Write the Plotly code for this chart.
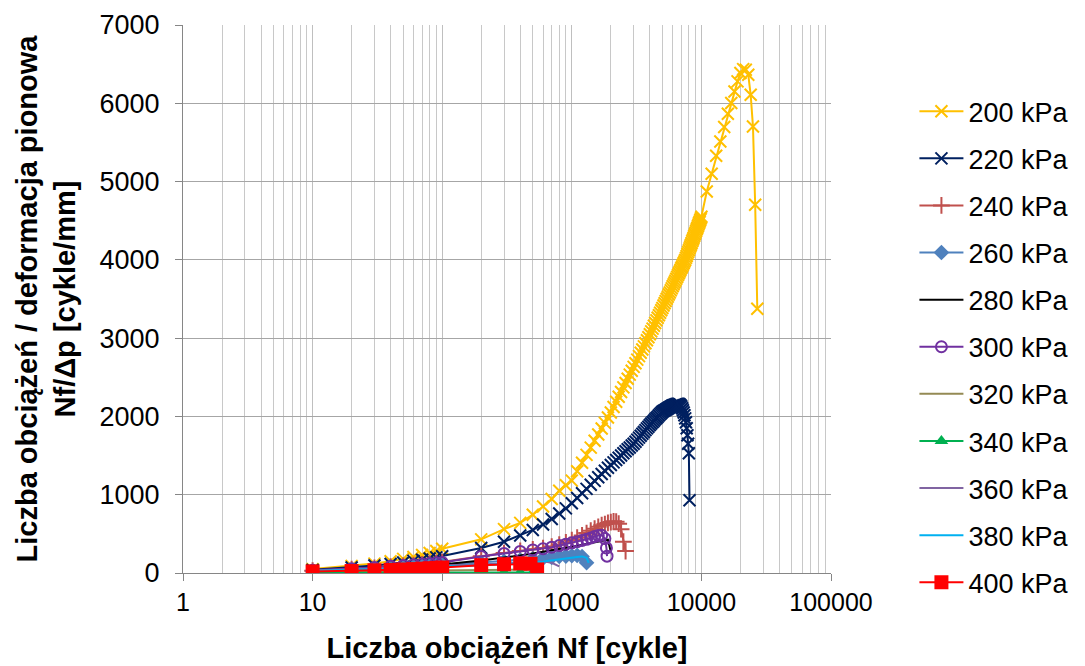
import plotly.graph_objects as go

# ---- data ----
N_LOW = [10, 20, 30, 40, 50, 60, 70, 80, 90, 100]
N_MID = [200, 300, 400, 500, 600, 700, 800, 900, 1000]
N_DENSE = [1100, 1200, 1300, 1400, 1500, 1600, 1700, 1800, 1900, 2000,
           2100, 2200, 2300, 2400, 2500, 2600, 2700, 2800, 2900, 3000,
           3100, 3200, 3300, 3400, 3500, 3600, 3700, 3800, 3900, 4000,
           4100, 4200, 4300, 4400, 4500, 4600, 4700, 4800, 4900, 5000,
           5100, 5200, 5300, 5400, 5500, 5600, 5700, 5800, 5900, 6000,
           6100, 6200, 6300, 6400, 6500, 6600, 6700, 6800, 6900, 7000,
           7100, 7200, 7300, 7400, 7500, 7600, 7700, 7800, 7900, 8000,
           8100, 8200, 8300, 8400, 8500, 8600, 8700, 8800, 8900, 9000,
           9100, 9200, 9300, 9400, 9500, 9600, 9700, 9800, 9900, 10000]
N_HIGH = [11000, 12000, 13000, 14000, 15000, 16000, 17000, 18000, 19000,
          20000, 21000, 22000, 23000, 24000, 25000, 26000, 27000]
CYCLES = N_LOW + N_MID + N_DENSE + N_HIGH

y200 = [50, 90, 120, 150, 180, 205, 230, 255, 280, 310,
        430, 560, 640, 745, 850, 945, 1050, 1120, 1180,
        1300, 1409, 1509, 1602, 1689, 1770, 1846, 1918, 1986, 2050,
        2120, 2187, 2251, 2312, 2371, 2427, 2482, 2534, 2584, 2633,
        2680, 2726, 2770, 2813, 2855, 2895, 2934, 2973, 3011, 3049,
        3086, 3122, 3158, 3193, 3227, 3260, 3293, 3324, 3356, 3386,
        3416, 3445, 3474, 3503, 3530, 3557, 3584, 3610, 3636, 3662,
        3687, 3711, 3735, 3759, 3783, 3806, 3829, 3851, 3873, 3895,
        3916, 3937, 3958, 3979, 4000, 4025, 4050, 4075, 4099, 4123,
        4147, 4170, 4194, 4216, 4239, 4261, 4283, 4305, 4327, 4348,
        4369, 4390, 4411, 4431, 4451, 4472, 4491, 4511, 4530, 4550,
        4874, 5100, 5330, 5512, 5696, 5866, 6003, 6150, 6280, 6386,
        6436, 6428, 6364, 6108, 5704, 4703, 3375]

y220 = [40, 70, 95, 115, 135, 155, 170, 185, 200, 215,
        320, 400, 480, 550, 620, 690, 760, 825, 890,
        957, 1019, 1075, 1128, 1177, 1222, 1265, 1306, 1344, 1380,
        1413, 1444, 1473, 1501, 1529, 1555, 1580, 1604, 1628, 1650,
        1677, 1704, 1729, 1754, 1779, 1802, 1825, 1847, 1869, 1890,
        1909, 1927, 1945, 1963, 1980, 1996, 2013, 2029, 2044, 2060,
        2069, 2077, 2086, 2094, 2102, 2110, 2118, 2125, 2133, 2140,
        2144, 2148, 2152, 2155, 2158, 2160, 2158, 2152, 2142, 2128,
        2105, 2080, 2050, 2015, 1975, 1925, 1850, 1760, 1650, 1530, 930]

y240 = [30, 50, 65, 80, 90, 100, 110, 120, 130, 140,
        215, 255, 282, 302, 318, 338, 362, 390, 420,
        450, 480, 510, 540, 565, 590, 610, 625, 640, 650,
        660, 655, 630, 560, 400, 280]

y260 = [25, 40, 50, 60, 70, 78, 85, 92, 100, 105,
        130, 150, 165, 180, 190, 200, 210, 215, 220,
        225, 210, 130]

y280 = [30, 45, 55, 65, 75, 82, 90, 97, 105, 110,
        160, 195, 225, 250, 270, 290, 305, 320, 335,
        348, 360, 372, 384, 395, 405, 413, 420, 425, 270]

x300 = N_LOW + N_MID + [1100, 1200, 1300, 1400, 1500, 1600, 1700, 1800, 1850, 1870]
y300 = [35, 55, 70, 85, 95, 105, 115, 122, 130, 135,
        212, 250, 275, 295, 310, 330, 350, 368, 385,
        400, 415, 430, 448, 465, 478, 482, 440, 320, 215]

x320 = N_LOW + [200, 300, 400, 500]
y320 = [15, 20, 25, 28, 30, 32, 34, 36, 38, 40, 45, 48, 50, 45]

x340 = N_LOW + [200, 300, 400, 500]
y340 = [3, 4, 4, 5, 5, 5, 6, 6, 6, 7, 8, 9, 8, 6]

x360 = N_LOW + [200, 300, 400, 500, 600, 700, 800]
y360 = [30, 45, 55, 62, 70, 76, 82, 87, 92, 97, 110, 125, 138, 148, 150, 130, 85]

x380 = N_LOW + N_MID + [1100, 1200, 1300, 1350]
y380 = [25, 38, 48, 55, 62, 68, 73, 78, 83, 87,
        95, 110, 122, 135, 148, 160, 172, 183, 193,
        203, 212, 195, 128]

x400 = N_LOW + [200, 300, 400, 480, 540]
y400 = [20, 25, 35, 40, 45, 50, 55, 60, 65, 70, 100, 112, 122, 118, 45]

X_TICKS = [1, 10, 100, 1000, 10000, 100000]
X_TICK_TEXT = ["1", "10", "100", "1000", "10000", "100000"]
Y_TICKS = [0, 1000, 2000, 3000, 4000, 5000, 6000, 7000]

# ---- figure ----
FONT = "Liberation Sans, Arial, sans-serif"
fig = go.Figure()

series = [
    ("200 kPa", CYCLES, y200, "#FFC000", "x-thin", 12),
    ("220 kPa", CYCLES[:len(y220)], y220, "#002060", "x-thin", 12),
    ("240 kPa", CYCLES[:len(y240)], y240, "#C0504D", "cross-thin", 12),
    ("260 kPa", CYCLES[:len(y260)], y260, "#4F81BD", "diamond", 12),
    ("280 kPa", CYCLES[:len(y280)], y280, "#000000", None, 0),
    ("300 kPa", x300, y300, "#7030A0", "circle-open", 11),
    ("320 kPa", x320, y320, "#948A54", None, 0),
    ("340 kPa", x340, y340, "#00B050", "triangle-up", 12),
    ("360 kPa", x360, y360, "#8064A2", None, 0),
    ("380 kPa", x380, y380, "#00B0F0", None, 0),
    ("400 kPa", x400, y400, "#FF0000", "square", 14),
]

for i, (name, xs, ys, col, sym, size) in enumerate(series):
    if sym is None:
        mode = "lines"
        marker = None
    else:
        mode = "lines+markers"
        if sym.endswith("-thin") or sym.endswith("-open"):
            marker = dict(symbol=sym, size=size, color=col,
                          line=dict(color=col, width=2))
        else:
            marker = dict(symbol=sym, size=size, color=col,
                          line=dict(width=0))
    fig.add_trace(go.Scatter(
        x=xs, y=ys, name=name, mode=mode,
        line=dict(color=col, width=2),
        marker=marker, legendgroup=f"g{i}",
    ))

fig.update_layout(
    width=1077, height=658,
    paper_bgcolor="white", plot_bgcolor="white",
    margin=dict(l=175, r=253, t=17, b=93),
    font=dict(family=FONT, size=26, color="#000000"),
    legend=dict(
        x=1.127, xanchor="left", y=0.412, yanchor="middle",
        font=dict(family=FONT, size=27, color="#000000"),
        traceorder="grouped", tracegroupgap=9, itemwidth=44,
        bgcolor="rgba(0,0,0,0)",
    ),
    showlegend=True,
)

fig.update_xaxes(
    type="log", range=[0, 5],
    tickvals=X_TICKS, ticktext=X_TICK_TEXT,
    showgrid=True, gridcolor="#BFBFBF", gridwidth=1,
    minor=dict(dtick="D1", showgrid=True, gridcolor="#C8C8C8", gridwidth=1,
               ticks=""),
    showline=True, linecolor="#868686", linewidth=1,
    ticks="outside", ticklen=7, tickcolor="#868686",
    tickfont=dict(family=FONT, size=25),
    title=dict(text="<b>Liczba obciążeń Nf [cykle]</b>",
               font=dict(family=FONT, size=29), standoff=22),
    zeroline=False, automargin=False,
)
fig.update_yaxes(
    range=[0, 7000], tickvals=Y_TICKS,
    showgrid=True, gridcolor="#A6A6A6", gridwidth=1,
    showline=True, linecolor="#868686", linewidth=1,
    ticks="outside", ticklen=7, tickcolor="#868686", ticklabelstandoff=10,
    tickfont=dict(family=FONT, size=27),
    title=dict(text="<b>Liczba obciążeń / deformacja pionowa<br>Nf/Δp [cykle/mm]</b>",
               font=dict(family=FONT, size=29), standoff=15),
    zeroline=False, automargin=False,
)

fig.write_html("out.html")
